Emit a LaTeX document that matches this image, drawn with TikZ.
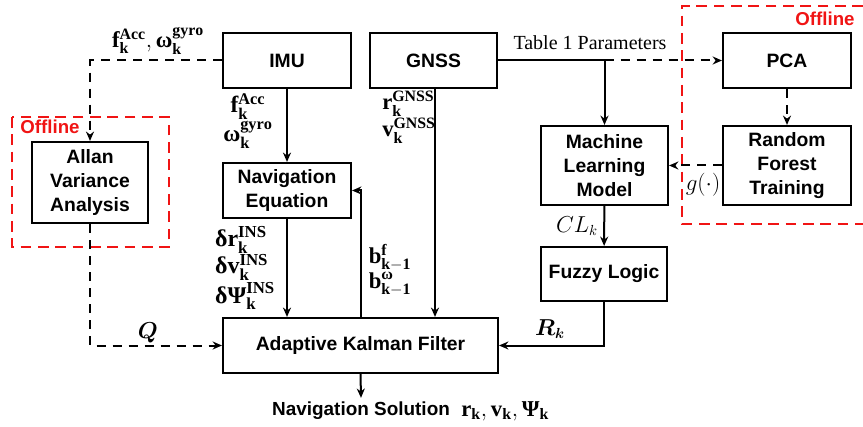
\documentclass[tikz,border=0pt]{standalone}
\usepackage{amsmath}
\usepackage{fontspec}
\setmainfont{Liberation Serif}
\newfontfamily\boxfont{Liberation Sans}
\usetikzlibrary{arrows.meta}
\definecolor{offred}{RGB}{240,20,20}
\newcommand{\bk}{\mathbf{k}}
\newcommand{\gb}[1]{\text{\bfseries #1}}

\begin{document}
\begin{tikzpicture}[x=0.75pt,y=-0.75pt,
  box/.style={draw, line width=1.6pt, inner sep=0pt, align=center,
    font=\boxfont\bfseries\fontsize{14.5}{18}\selectfont},
  blk/.style 2 args={box, minimum width=#1*0.75pt, minimum height=#2*0.75pt},
  ln/.style={line width=1.5pt},
  arr/.style={ln, -{Stealth[length=7pt,width=6pt]}},
  dsh/.style={dash pattern=on 7pt off 5pt},
  offbox/.style={draw=offred, line width=1.7pt, dash pattern=on 8pt off 5pt},
  offtxt/.style={text=offred, inner sep=0pt, font=\boxfont\bfseries\fontsize{14}{16}\selectfont},
  lab/.style={inner sep=0pt, align=center, font=\fontsize{17}{20}\selectfont},
]
\useasboundingbox (0,0) rectangle (863,427);

% offline regions
\draw[offbox] (12,117) rectangle (169,247);
\node[offtxt] (offl) at (50,127) {Offline};
\draw[offbox] (863,6) -- (682,6) -- (682,224) -- (863,224);
\node[offtxt] (offr) at (825,19) {Offline};

% blocks
\node[blk={128}{55}] (imu) at (287,60.5) {IMU};
\node[blk={127}{55}] (gnss) at (433.5,60.5) {GNSS};
\node[blk={128}{55}] (pca) at (787,60.5) {PCA};
\node[blk={128}{79}] (rf) at (787,165.5) {Random\\Forest\\Training};
\node[blk={127}{79}] (ml) at (604.5,165.5) {Machine\\Learning\\Model};
\node[blk={126}{54}] (fuzzy) at (604,274) {Fuzzy Logic};
\node[blk={128}{55}] (naveq) at (287,190.5) {Navigation\\Equation};
\node[blk={275}{55}] (akf) at (360.5,345.5) {Adaptive Kalman Filter};
\node[blk={116}{81}] (allan) at (90,182.5) {Allan\\Variance\\Analysis};

% output
\node[inner sep=3pt, font=\boxfont\bfseries\fontsize{14.2}{16}\selectfont] (nav) at (361,411) {Navigation Solution};
\node[anchor=west, inner sep=0pt, font=\fontsize{17}{20}\selectfont] (navm) at (461,411)
  {$\mathbf{r}_{\bk},\mathbf{v}_{\bk},\gb{Ψ}_{\bk}$};

% connectors
\coordinate (br) at (ml.north |- gnss.east);
\draw[ln] (gnss.east) -- (br);
\draw[arr] (br) -- (ml.north);
\draw[arr, dsh] (br) -- (pca.west);
\draw[arr, dsh] (pca) -- (rf);
\draw[arr, dsh] (rf.west) -- (ml.east);
\draw[arr] (ml) -- (fuzzy);
\draw[arr] (fuzzy.south) |- (akf.east);
\draw[arr] (imu) -- (naveq);
\draw[arr] (naveq.south) -- (naveq.south |- akf.north);
\draw[arr] ([xshift=1.5*0.75pt]gnss.south) -- ([xshift=1.5*0.75pt]gnss.south |- akf.north);
\draw[arr] (akf.north) |- (naveq.east);
\draw[arr, dsh] (imu.west) -| (allan.north);
\draw[arr, dsh] (allan.south) |- (akf.west);
\draw[arr] (akf.south) -- (nav.north);

% signal labels
\node[font=\fontsize{15}{18}\selectfont, inner sep=0pt] (tabp) at (590,43) {Table 1 Parameters};
\node[lab] (fw1) at (158,41) {$\mathbf{f}_{\bk}^{\mathbf{Acc}},\gb{ω}_{\bk}^{\mathbf{gyro}}$};
\node[lab, font=\fontsize{17.5}{16.5}\selectfont] (fw2) at (248,121) {$\mathbf{f}_{\bk}^{\mathbf{Acc}}$\\$\gb{ω}_{\bk}^{\mathbf{gyro}}$};
\node[lab, align=left, font=\fontsize{17}{19}\selectfont] (rv) at (409,117) {$\mathbf{r}_{\bk}^{\mathbf{GNSS}}$\\$\mathbf{v}_{\bk}^{\mathbf{GNSS}}$};
\node[lab, align=left, font=\fontsize{18}{20.6}\selectfont] (dins) at (245,268)
  {$\gb{δ}\mathbf{r}_{\bk}^{\mathbf{INS}}$\\$\gb{δ}\mathbf{v}_{\bk}^{\mathbf{INS}}$\\$\gb{δΨ}_{\bk}^{\mathbf{INS}}$};
\node[lab, align=left, font=\fontsize{17}{17}\selectfont] (bias) at (390,270)
  {$\mathbf{b}_{\mathbf{k-1}}^{\mathbf{f}}$\\$\mathbf{b}_{\mathbf{k-1}}^{\gb{ω}}$};
\node[lab, font=\fontsize{16}{18}\selectfont] (cl) at (577,226) {$CL_k$};
\node[lab, font=\fontsize{16}{18}\selectfont] (rk) at (550,329) {$\boldsymbol{R_k}$};
\node[lab, font=\fontsize{16}{18}\selectfont] (qq) at (148,333) {$\boldsymbol{Q}$};
\node[lab, font=\fontsize{16}{18}\selectfont] (gg) at (703,185) {$g(\cdot)$};
\end{tikzpicture}
\end{document}
